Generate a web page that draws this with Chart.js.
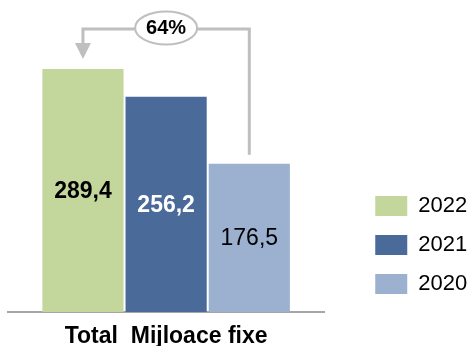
<!DOCTYPE html>
<html>
<head>
<meta charset="utf-8">
<script src="https://cdn.jsdelivr.net/npm/chart.js@4.4.0/dist/chart.umd.min.js"></script>
<style>
  html, body { margin: 0; padding: 0; background: #fff; }
  #wrap { width: 476px; height: 346px; }
</style>
</head>
<body>
<div id="wrap"><canvas id="chart"></canvas></div>
<script>
const categories = ['Total  Mijloace fixe'];
const years = ['2022', '2021', '2020'];
const values2022 = [289.4];
const values2021 = [256.2];
const values2020 = [176.5];
const changeLabel = '64%';

Chart.defaults.font.family = '"Liberation Sans", Arial, sans-serif';
Chart.defaults.color = '#000';

// numbers written inside each bar, romanian decimal comma
const valueLabels = {
  id: 'valueLabels',
  afterDatasetsDraw(chart) {
    const ctx = chart.ctx;
    const styles = [
      { color: '#000', weight: 'bold' },
      { color: '#fff', weight: 'bold' },
      { color: '#000', weight: 'normal' }
    ];
    chart.data.datasets.forEach((ds, i) => {
      const bar = chart.getDatasetMeta(i).data[0];
      ctx.save();
      ctx.font = styles[i].weight + ' 23px "Liberation Sans", Arial, sans-serif';
      ctx.fillStyle = styles[i].color;
      ctx.textAlign = 'center';
      ctx.textBaseline = 'middle';
      ctx.fillText(ds.data[0].toFixed(1).replace('.', ','), bar.x, (bar.y + bar.base) / 2 + 1);
      ctx.restore();
    });
  }
};

// bracket arrow from the 2020 bar back to the 2022 bar with the growth bubble
const growthArrow = {
  id: 'growthArrow',
  afterDatasetsDraw(chart) {
    const ctx = chart.ctx;
    const first = chart.getDatasetMeta(0).data[0];
    const last = chart.getDatasetMeta(2).data[0];
    const lineY = chart.scales.y.getPixelForValue(337);
    const tipY = first.y - 10;
    const headLen = 16;

    ctx.save();
    ctx.strokeStyle = '#bfbfbf';
    ctx.fillStyle = '#bfbfbf';
    ctx.lineWidth = 3;
    ctx.beginPath();
    ctx.moveTo(last.x, last.y - 9);
    ctx.lineTo(last.x, lineY);
    ctx.lineTo(first.x, lineY);
    ctx.lineTo(first.x, tipY - headLen);
    ctx.stroke();

    ctx.beginPath();
    ctx.moveTo(first.x - 8, tipY - headLen);
    ctx.lineTo(first.x + 8, tipY - headLen);
    ctx.lineTo(first.x, tipY);
    ctx.closePath();
    ctx.fill();

    const cx = (first.x + last.x) / 2;
    ctx.beginPath();
    ctx.ellipse(cx, lineY - 1, 31, 16.5, 0, 0, Math.PI * 2);
    ctx.fillStyle = '#fff';
    ctx.fill();
    ctx.lineWidth = 2;
    ctx.stroke();

    ctx.fillStyle = '#000';
    ctx.font = 'bold 20px "Liberation Sans", Arial, sans-serif';
    ctx.textAlign = 'center';
    ctx.textBaseline = 'middle';
    ctx.fillText(changeLabel, cx, lineY);
    ctx.restore();
  }
};

new Chart(document.getElementById('chart'), {
  type: 'bar',
  data: {
    labels: categories,
    datasets: [
      { label: years[0], data: values2022, backgroundColor: '#c3d69b' },
      { label: years[1], data: values2021, backgroundColor: '#4a6a9a' },
      { label: years[2], data: values2020, backgroundColor: '#9cb0d0' }
    ]
  },
  options: {
    responsive: true,
    maintainAspectRatio: false,
    animation: false,
    layout: { padding: { left: 8, top: 18, right: 1, bottom: 0 } },
    datasets: {
      bar: { categoryPercentage: 0.789, barPercentage: 0.976 }
    },
    scales: {
      x: {
        grid: { display: false },
        border: { display: true, color: '#a6a6a6', width: 2 },
        ticks: { color: '#000', padding: 3, font: { size: 23, weight: 'bold' } },
        afterFit(scale) { scale.height = 34; }
      },
      y: {
        position: 'right',
        min: 0,
        max: 350,
        ticks: { display: false },
        grid: { display: false },
        border: { display: false },
        afterFit(scale) { scale.width = 34; }
      }
    },
    plugins: {
      legend: {
        position: 'right',
        align: 'end',
        fullSize: false,
        labels: { boxWidth: 32, boxHeight: 20, padding: 17, color: '#000', font: { size: 22 } }
      },
      tooltip: { enabled: false }
    }
  },
  plugins: [valueLabels, growthArrow]
});
</script>
</body>
</html>
